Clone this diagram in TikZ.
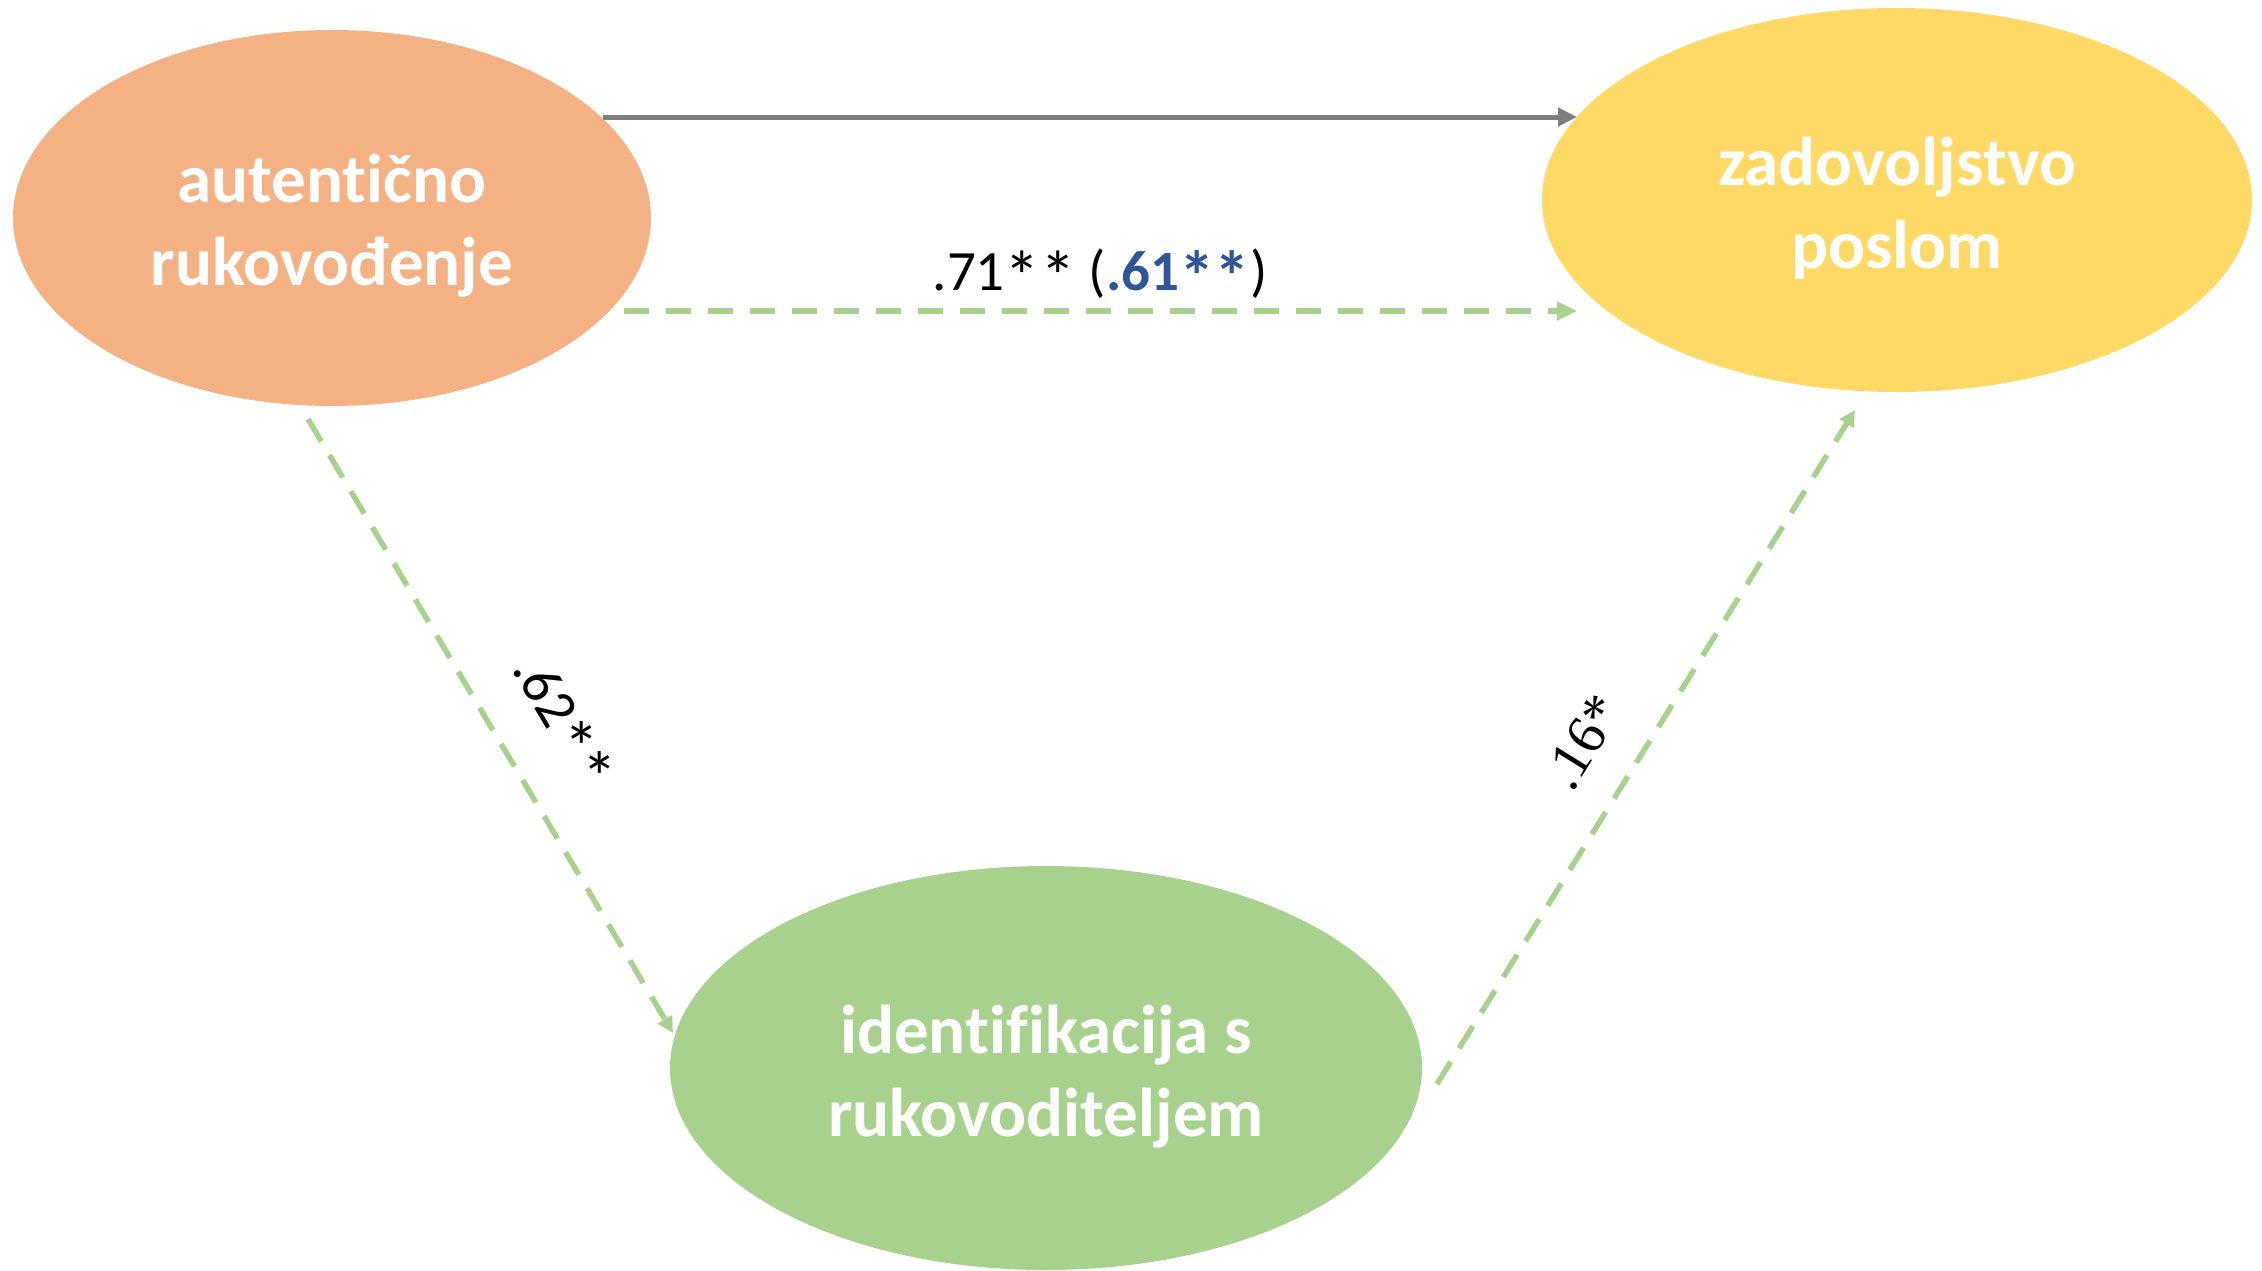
\documentclass[tikz,border=0pt]{standalone}
\usepackage{fontspec}
\setmainfont[Ligatures=NoCommon]{Carlito}
\newfontfamily\serifnum{Liberation Serif}
\usetikzlibrary{arrows.meta,shapes.geometric}

\definecolor{leadfill}{HTML}{F4B183}
\definecolor{satfill}{HTML}{FFD966}
\definecolor{identfill}{HTML}{A9D18E}
\definecolor{directgray}{HTML}{7F7F7F}
\definecolor{coefblue}{HTML}{2F5597}

% significance star, a little larger and lowered towards the digits
\newcommand{\bigast}{\raisebox{-0.2em}{\scalebox{1.25}{*}}}

\begin{document}
\begin{tikzpicture}[x=1pt,y=-1pt,
  blob/.style={ellipse, draw=none, inner sep=0pt},
  blobtext/.style={text=white, align=center,
    font=\bfseries\fontsize{69}{83}\selectfont},
  coef/.style={text=black, font=\fontsize{57}{68}\selectfont},
  direct/.style={draw=directgray, line width=5pt,
    -{Triangle[length=19pt,width=18pt]}},
  mediated/.style={draw=identfill, line width=6pt,
    dash pattern=on 25pt off 17pt,
    -{Triangle[length=20pt,width=18pt]}},
  slanted/.style={draw=identfill, line width=5.5pt,
    dash pattern=on 26pt off 16pt,
    -{Triangle[length=16pt,width=16pt]}}]

% canvas
\fill[white] (0,0) rectangle (2262,1270);
\useasboundingbox (0,0) rectangle (2262,1270);

% constructs
\node[blob, fill=leadfill, minimum width=638pt, minimum height=376pt] (lead) at (332,218) {};
\node[blob, fill=satfill, minimum width=710pt, minimum height=384pt] (sat) at (1897,200) {};
\node[blob, fill=identfill, minimum width=752pt, minimum height=404pt] (ident) at (1046,1068) {};

\node[blobtext] (leadtxt) at (332,226) {autentično\\rukovođenje};
\node[blobtext] (sattxt) at (1897,208) {zadovoljstvo\\poslom};
\node[blobtext] (identtxt) at (1046,1077) {identifikacija s\\rukovoditeljem};

% path end points
\coordinate (cS) at (603,117);
\coordinate (cE) at (1577,117);
\coordinate (dS) at (624,311);
\coordinate (dE) at (1577,311);
\coordinate (aS) at (308,419);
\coordinate (aE) at (673,1033);
\coordinate (bS) at (1437,1084);
\coordinate (bE) at (1855,410);

% total and direct effects
\draw[direct] (cS) -- (cE);
\draw[mediated] (dS) -- (dE);

% indirect path
\draw[slanted] (aS) -- (aE);
\draw[slanted] (bS) -- (bE);

% coefficients
\node[coef, anchor=base] (c71) at (1100,290) {.71\bigast\bigast{} (\textcolor{coefblue}{\bfseries .61\bigast\bigast})};
\node[coef, rotate=-59.3] (c62) at (560,724) {.62\bigast\bigast};
\node[coef, rotate=58.2, font=\serifnum\fontsize{56}{66}\selectfont] (c16) at (1583,742) {.16*};
\end{tikzpicture}
\end{document}
